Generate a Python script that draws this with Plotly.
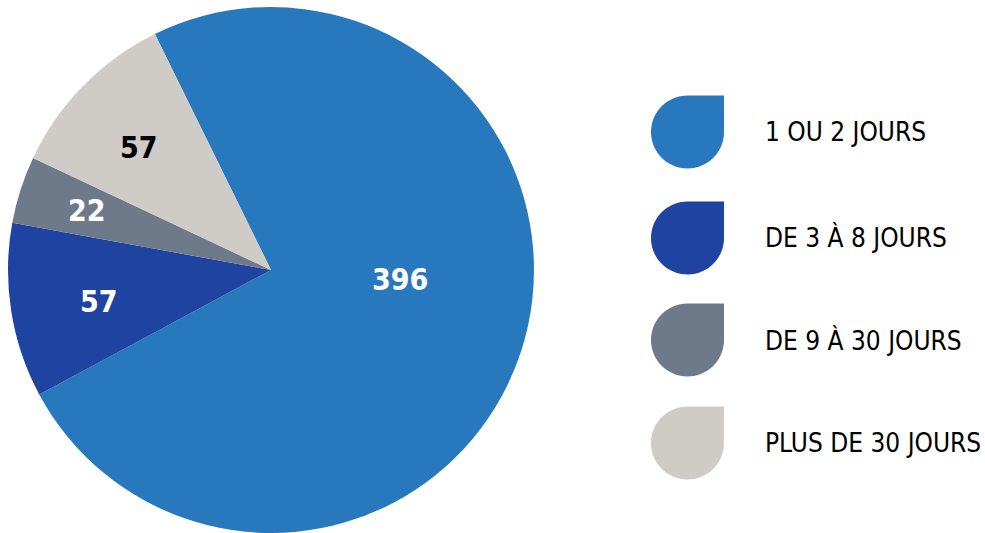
import math
import plotly.graph_objects as go

categories = ["1 OU 2 JOURS", "DE 3 À 8 JOURS", "DE 9 À 30 JOURS", "PLUS DE 30 JOURS"]
values = [396, 57, 22, 57]
colors = ["#2878BE", "#1F43A0", "#6E7A89", "#CFCCC8"]
text_colors = ["white", "white", "white", "black"]

W, H = 985, 533
FONT = "DejaVu Sans Condensed, DejaVu Sans, sans-serif"
ROTATION = -26.2

# pie geometry (pixels)
PIE_X = (8, 534)
PIE_Y = (7, 533)  # from top

fig = go.Figure()
fig.add_trace(go.Pie(
    labels=categories,
    values=values,
    sort=False,
    direction="clockwise",
    rotation=ROTATION,
    marker=dict(colors=colors, line=dict(width=0)),
    textinfo="none",
    domain=dict(x=[PIE_X[0] / W, PIE_X[1] / W], y=[1 - PIE_Y[1] / H, 1 - PIE_Y[0] / H]),
    showlegend=False,
    hoverinfo="label+value",
))

def px(x):
    return x / W

def py(y):
    return 1 - y / H

annotations = []
shapes = []

# value labels placed along each slice, derived from the values
label_radius = [0.49, 0.665, 0.735, 0.685]
label_angle_shift = [-13.5, -1.5, 0, -1.5]
cx0 = (PIE_X[0] + PIE_X[1]) / 2
cy0 = (PIE_Y[0] + PIE_Y[1]) / 2
R = (PIE_X[1] - PIE_X[0]) / 2
total = sum(values)
cum = 0
for v, tc, lr, sh in zip(values, text_colors, label_radius, label_angle_shift):
    mid = ROTATION + (cum + v / 2) / total * 360 + sh
    cum += v
    a = math.radians(mid)
    lx = cx0 + lr * R * math.sin(a)
    ly = cy0 - lr * R * math.cos(a)
    annotations.append(dict(x=px(lx), y=py(ly), xref="paper", yref="paper",
                            text=str(v), showarrow=False, xanchor="center", yanchor="middle",
                            font=dict(family=FONT, size=30, color=tc, weight="bold")))

# custom teardrop legend
icon = 73
x0 = 651
y_centers = [132, 238, 340, 443]
for cat, col, yc in zip(categories, colors, y_centers):
    r = icon / 2
    cx = x0 + r
    top = yc - r
    right = x0 + icon
    pts = [(right, top), (right, yc)]
    for k in range(0, 271, 5):
        a = math.radians(k)
        pts.append((cx + r * math.cos(a), yc + r * math.sin(a)))
    pts.append((cx, top))
    path = "M " + " L ".join(f"{px(x):.5f},{py(y):.5f}" for x, y in pts) + " Z"
    shapes.append(dict(type="path", path=path, xref="paper", yref="paper",
                       fillcolor=col, line=dict(width=0)))
    annotations.append(dict(x=px(763), y=py(yc), xref="paper", yref="paper",
                            text=cat, showarrow=False, xanchor="left", yanchor="middle",
                            font=dict(family=FONT, size=26, color="black")))

fig.update_layout(
    width=W, height=H,
    margin=dict(l=0, r=0, t=0, b=0),
    paper_bgcolor="white",
    plot_bgcolor="white",
    shapes=shapes,
    annotations=annotations,
)

fig.write_html("out.html")
